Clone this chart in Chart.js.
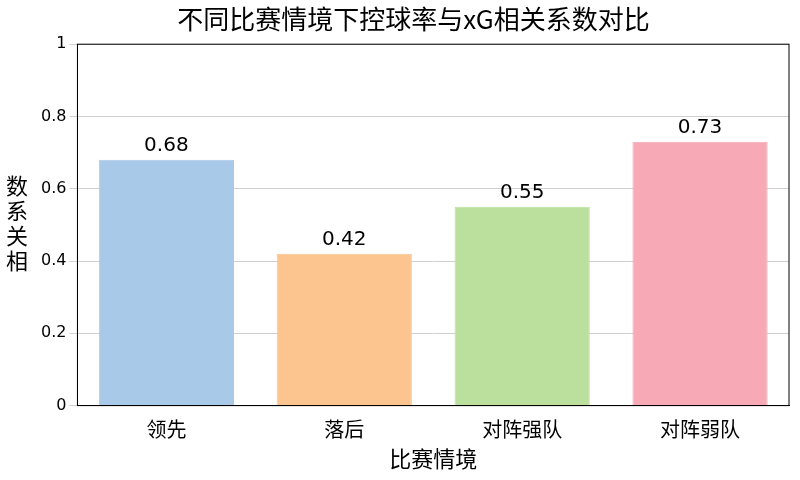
<!DOCTYPE html>
<html><head><meta charset="utf-8">
<script src="https://cdn.jsdelivr.net/npm/chart.js"></script>
<style>body{margin:0;background:#fff}#w{width:800px;height:480px}</style></head>
<body><div id="w"><canvas id="c"></canvas></div>
<script>
const categories=['领先','落后','对阵强队','对阵弱队'];
const values=[0.68,0.42,0.55,0.73];
const colors=['#a9c9e8','#fcc590','#bbdf9c','#f7a9b5'];
const yTicks=[0,0.2,0.4,0.6,0.8,1];
const F='"Noto Sans CJK SC", "DejaVu Sans", sans-serif';
const N='"DejaVu Sans", sans-serif';
const extras={id:'extras',afterDraw(ch){
  const c=ch.ctx,a=ch.chartArea;
  c.save();c.strokeStyle='#000';c.lineWidth=1;c.strokeRect(a.left,a.top,a.right-a.left,a.bottom-a.top);
  c.fillStyle='#000';c.font='20px '+N;c.textAlign='center';c.textBaseline='bottom';
  const m=ch.getDatasetMeta(0);
  m.data.forEach((b,i)=>c.fillText(values[i].toFixed(2),b.x,b.y-4));
  c.font='22px '+F;c.textBaseline='middle';
  const t='数系关相';
  for(let i=0;i<t.length;i++)c.fillText(t[i],17,186+i*25);
  c.restore();
}};
new Chart(document.getElementById('c'),{type:'bar',
data:{labels:categories,datasets:[{data:values,backgroundColor:colors,borderColor:colors,borderWidth:1,barPercentage:0.76,categoryPercentage:1}]},
options:{responsive:true,maintainAspectRatio:false,animation:false,
layout:{padding:{left:38,right:11,top:0,bottom:4}},
plugins:{legend:{display:false},tooltip:{enabled:false},
 title:{display:true,text:'不同比赛情境下控球率与xG相关系数对比',color:'#000',font:{family:F,size:26,weight:'normal'},padding:{top:4,bottom:9}}},
scales:{
 x:{grid:{display:false},border:{color:'#000'},ticks:{color:'#000',font:{family:F,size:20},padding:4},
  title:{display:true,text:'比赛情境',color:'#000',font:{family:F,size:22},padding:{top:0}}},
 y:{min:0,max:1,afterBuildTicks(s){s.ticks=yTicks.map(v=>({value:v}));},
  grid:{color:'#d0d0d0'},border:{color:'#000'},
  ticks:{color:'#000',font:{family:N,size:16},callback:v=>String(v)}}
}},plugins:[extras]});
</script></body></html>
